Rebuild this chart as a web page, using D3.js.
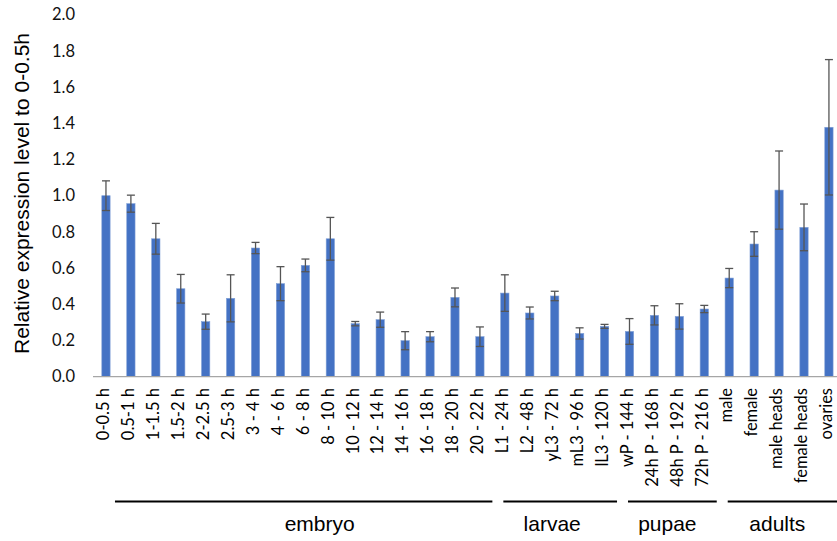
<!DOCTYPE html>
<html>
<head>
<meta charset="utf-8">
<script src="https://cdn.jsdelivr.net/npm/d3@7"></script>
<style>
  html, body { margin: 0; padding: 0; background: #fff; }
  svg { display: block; }
</style>
</head>
<body>
<svg id="chart" width="837" height="541"></svg>
<script>
// ---- data ----
const categories = ["0-0.5 h", "0.5-1 h", "1-1.5 h", "1.5-2 h", "2-2.5 h", "2.5-3 h",
  "3 - 4 h", "4 - 6 h", "6 - 8 h", "8 - 10 h", "10 - 12 h", "12 - 14 h", "14 - 16 h",
  "16 - 18 h", "18 - 20 h", "20 - 22 h", "L1 - 24 h", "L2 - 48 h", "yL3 - 72 h",
  "mL3 - 96 h", "lL3 - 120 h", "wP - 144 h", "24h P - 168 h", "48h P - 192 h",
  "72h P - 216 h", "male", "female", "male heads", "female heads", "ovaries"];
const values = [1.00, 0.956, 0.762, 0.486, 0.304, 0.433, 0.711, 0.514, 0.615, 0.762,
  0.293, 0.315, 0.199, 0.221, 0.438, 0.221, 0.462, 0.352, 0.446, 0.239,
  0.278, 0.250, 0.339, 0.333, 0.374, 0.545, 0.733, 1.031, 0.825, 1.378];
const errors = [0.082, 0.047, 0.085, 0.079, 0.042, 0.13, 0.031, 0.094, 0.035, 0.118,
  0.012, 0.042, 0.05, 0.028, 0.052, 0.054, 0.101, 0.033, 0.026, 0.031,
  0.011, 0.071, 0.053, 0.07, 0.02, 0.053, 0.068, 0.216, 0.129, 0.374];
const yTicks = [0, 0.2, 0.4, 0.6, 0.8, 1.0, 1.2, 1.4, 1.6, 1.8, 2.0];
const groupNames = ["embryo", "larvae", "pupae", "adults"];
const groupStart = [0, 16, 21, 25];
const groupEnd = [15, 20, 24, 29];
const yTitle = "Relative expression level to 0-0.5h";

// ---- layout ----
const W = 837, H = 541;
const svg = d3.select("#chart");
const x = d3.scaleBand().domain(categories).range([93.5, 841.4])
  .paddingInner(0.667).paddingOuter(0.3335);
const y = d3.scaleLinear().domain([0, 2]).range([376.7, 14.7]);
const step = x.step();
const cx = d => x(d) + x.bandwidth() / 2;

// y tick labels
svg.append("g").selectAll("text").data(yTicks).join("text")
  .attr("x", 75).attr("y", d => y(d)).attr("dy", "0.35em")
  .attr("text-anchor", "end")
  .attr("font-family", "Lato, 'Open Sans', sans-serif")
  .attr("font-size", 16.5).attr("fill", "#111")
  .text(d => d3.format(".1f")(d));

// y title
svg.append("text")
  .attr("transform", "translate(28.5,193.5) rotate(-90)")
  .attr("text-anchor", "middle")
  .attr("font-family", "'Liberation Sans', Arial, sans-serif")
  .attr("font-size", 21).attr("fill", "#000")
  .text(yTitle);

// bars
const data = categories.map((c, i) => ({c, v: values[i], e: errors[i]}));
svg.append("g").selectAll("rect").data(data).join("rect")
  .attr("x", d => x(d.c)).attr("width", x.bandwidth())
  .attr("y", d => y(d.v)).attr("height", d => y(0) - y(d.v))
  .attr("fill", "#4472C4").attr("stroke", "#7f9fd6").attr("stroke-width", 0.6);

// error bars
const eb = svg.append("g").attr("stroke", "#555").attr("stroke-width", 1.3);
eb.selectAll("line.v").data(data).join("line").attr("class", "v")
  .attr("x1", d => cx(d.c)).attr("x2", d => cx(d.c))
  .attr("y1", d => y(d.v + d.e)).attr("y2", d => y(d.v - d.e));
eb.selectAll("line.t").data(data).join("line").attr("class", "t")
  .attr("x1", d => cx(d.c) - 4).attr("x2", d => cx(d.c) + 4)
  .attr("y1", d => y(d.v + d.e)).attr("y2", d => y(d.v + d.e));
eb.selectAll("line.b").data(data).join("line").attr("class", "b")
  .attr("x1", d => cx(d.c) - 4).attr("x2", d => cx(d.c) + 4)
  .attr("y1", d => y(d.v - d.e)).attr("y2", d => y(d.v - d.e));

// x axis line
svg.append("line").attr("x1", 93).attr("x2", W)
  .attr("y1", y(0)).attr("y2", y(0))
  .attr("stroke", "#a6a6a6").attr("stroke-width", 1.3);

// x labels
svg.append("g").selectAll("text").data(categories).join("text")
  .attr("transform", d => `translate(${cx(d) - 2.5},388) rotate(-90)`)
  .attr("dy", "0.35em")
  .attr("text-anchor", "end")
  .attr("font-family", "Lato, 'Open Sans', sans-serif")
  .attr("font-size", 16.5).attr("fill", "#000")
  .text(d => d);

// group lines & labels
const labelShift = [16, -8, -5, -5];
groupNames.forEach((g, i) => {
  const s = categories[groupStart[i]], e = categories[groupEnd[i]];
  const x1 = i === 0 ? cx(s) + 9 : cx(s) - 1.5;
  const x2 = Math.min(cx(e) + step / 2, W);
  svg.append("line").attr("x1", x1).attr("x2", x2)
    .attr("y1", 501.5).attr("y2", 501.5)
    .attr("stroke", "#000").attr("stroke-width", 2);
  svg.append("text").attr("x", (x1 + x2) / 2 + labelShift[i]).attr("y", 531)
    .attr("text-anchor", "middle")
    .attr("font-family", "'Liberation Sans', Arial, sans-serif")
    .attr("font-size", 21).attr("fill", "#000")
    .text(g);
});
</script>
</body>
</html>
